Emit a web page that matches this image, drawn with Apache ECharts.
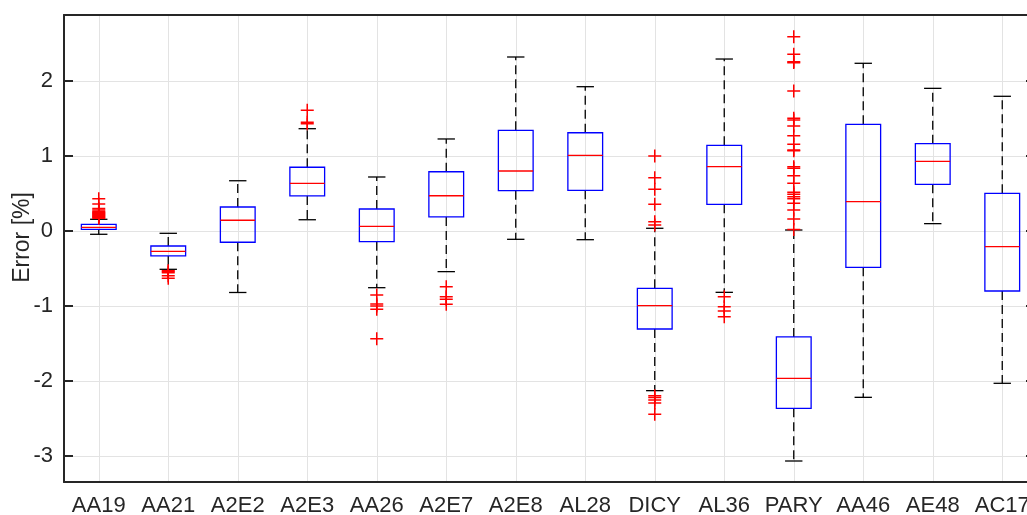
<!DOCTYPE html>
<html>
<head>
<meta charset="utf-8">
<script src="https://cdn.jsdelivr.net/npm/echarts@6/dist/echarts.min.js"></script>
<style>
  html, body { margin: 0; padding: 0; background: #fff; }
  #chart { width: 1027px; height: 515px; }
</style>
</head>
<body>
<div id="chart"></div>
<script>
const categories = ['AA19', 'AA21', 'A2E2', 'A2E3', 'AA26', 'A2E7', 'A2E8', 'AL28', 'DICY', 'AL36', 'PARY', 'AA46', 'AE48', 'AC17'];

// box stats per category (error in %)
const whiskerLow  = [-0.044, -0.511, -0.82,  0.15,  -0.756, -0.542, -0.111, -0.116, -2.129, -0.818, -3.067, -2.218, 0.098, -2.031];
const q1          = [ 0.022, -0.333, -0.15,  0.467, -0.142,  0.187,  0.538,  0.542, -1.307,  0.356, -2.364, -0.484, 0.622, -0.8];
const median      = [ 0.049, -0.271,  0.143, 0.636,  0.062,  0.47,   0.8,    1.009, -0.996,  0.858, -1.964,  0.391, 0.929, -0.209];
const q3          = [ 0.089, -0.2,    0.32,  0.85,   0.293,  0.79,   1.342,  1.31,  -0.764,  1.142, -1.413,  1.422, 1.164,  0.502];
const whiskerHigh = [ 0.156, -0.031,  0.67,  1.364,  0.72,   1.227,  2.32,   1.924,  0.036,  2.293,  0.013,  2.236, 1.902,  1.796];

// outliers, same order as categories
const outliers = [
  [0.43, 0.36, 0.30, 0.28, 0.26, 0.25, 0.24, 0.23, 0.22, 0.21, 0.20, 0.19, 0.18, 0.17],
  [-0.53, -0.54, -0.556, -0.596, -0.63],
  [],
  [1.609, 1.449, 1.43],
  [-0.853, -0.973, -1.0, -1.044, -1.436],
  [-0.742, -0.876, -0.91, -0.978],
  [],
  [],
  [1.0, 0.711, 0.556, 0.356, 0.124, 0.08, -2.196, -2.22, -2.253, -2.293, -2.444],
  [-0.876, -1.009, -1.067, -1.142],
  [2.591, 2.356, 2.258, 2.245, 1.867, 1.502, 1.48, 1.4, 1.271, 1.156, 1.08, 1.07, 0.858, 0.836,
   0.738, 0.636, 0.516, 0.49, 0.458, 0.43, 0.369, 0.28, 0.16, 0.02],
  [],
  [],
  []
];

const yTicks = [-3, -2, -1, 0, 1, 2];
const yMin = -3.347, yMax = 2.88;

const boxData = categories.map((c, i) => [i, whiskerLow[i], q1[i], median[i], q3[i], whiskerHigh[i]]);
const outlierData = [];
outliers.forEach((arr, i) => arr.forEach(v => outlierData.push([i, v])));

const textColor = '#262626';
const fontFamily = '"Liberation Sans", Arial, sans-serif';

function renderBox(params, api) {
  const idx = api.value(0);
  const band = api.size([1, 0])[0];
  const half = band * 0.25;
  const cap = band * 0.125;
  const lo = api.coord([idx, api.value(1)]);
  const b1 = api.coord([idx, api.value(2)]);
  const md = api.coord([idx, api.value(3)]);
  const b3 = api.coord([idx, api.value(4)]);
  const hi = api.coord([idx, api.value(5)]);
  const x = lo[0];
  const dash = { stroke: '#000', lineWidth: 1.3, lineDash: [9, 5], fill: null };
  const solid = { stroke: '#000', lineWidth: 1.3, fill: null };
  return {
    type: 'group',
    children: [
      { type: 'line', shape: { x1: x, y1: b3[1], x2: x, y2: hi[1] }, style: dash },
      { type: 'line', shape: { x1: x, y1: b1[1], x2: x, y2: lo[1] }, style: dash },
      { type: 'line', shape: { x1: x - cap, y1: hi[1], x2: x + cap, y2: hi[1] }, style: solid },
      { type: 'line', shape: { x1: x - cap, y1: lo[1], x2: x + cap, y2: lo[1] }, style: solid },
      { type: 'rect', shape: { x: x - half, y: b3[1], width: half * 2, height: b1[1] - b3[1] },
        style: { stroke: '#0000ff', lineWidth: 1.3, fill: null } },
      { type: 'line', shape: { x1: x - half, y1: md[1], x2: x + half, y2: md[1] },
        style: { stroke: '#ff0000', lineWidth: 1.3 } }
    ]
  };
}

const chart = echarts.init(document.getElementById('chart'));

const option = {
  animation: false,
  backgroundColor: '#fff',
  grid: { left: 64, top: 15, right: -10, bottom: 33, containLabel: false, outerBoundsMode: 'none' },
  xAxis: [
    {
      type: 'category',
      data: categories,
      axisLine: { onZero: false, lineStyle: { color: textColor, width: 2 } },
      axisTick: { inside: true, alignWithLabel: true, length: 9, lineStyle: { color: textColor, width: 2 } },
      axisLabel: { interval: 0, color: textColor, fontSize: 22, fontFamily: fontFamily, margin: 13 },
      splitLine: { show: true, alignWithLabel: true, lineStyle: { color: '#e3e3e3', width: 1 } }
    },
    {
      type: 'category',
      position: 'top',
      data: categories,
      axisLine: { onZero: false, lineStyle: { color: textColor, width: 2 } },
      axisTick: { inside: true, alignWithLabel: true, length: 9, lineStyle: { color: textColor, width: 2 } },
      axisLabel: { show: false },
      splitLine: { show: false }
    }
  ],
  yAxis: [
    {
      type: 'value',
      min: yMin,
      max: yMax,
      name: 'Error [%]',
      nameLocation: 'middle',
      nameGap: 30,
      nameMoveOverlap: false,
      nameTextStyle: { color: textColor, fontSize: 23, fontFamily: fontFamily, padding: [0, 0, 0, 22] },
      axisLine: { show: true, onZero: false, lineStyle: { color: textColor, width: 2 } },
      axisTick: { show: true, inside: true, length: 9, customValues: yTicks, lineStyle: { color: textColor, width: 2 } },
      axisLabel: { color: textColor, fontSize: 22, fontFamily: fontFamily, margin: 11, customValues: yTicks,
        formatter: v => String(v) },
      splitLine: { show: true, lineStyle: { color: '#e3e3e3', width: 1 } }
    },
    {
      type: 'value',
      position: 'right',
      min: yMin,
      max: yMax,
      axisLine: { show: true, onZero: false, lineStyle: { color: textColor, width: 2 } },
      axisTick: { show: true, inside: true, length: 11, customValues: yTicks, lineStyle: { color: textColor, width: 2 } },
      axisLabel: { show: false },
      splitLine: { show: false }
    }
  ],
  series: [
    {
      type: 'custom',
      renderItem: renderBox,
      data: boxData,
      encode: { x: 0, y: [1, 2, 3, 4, 5] },
      silent: true,
      z: 2
    },
    {
      type: 'scatter',
      data: outlierData,
      symbol: 'path://M5.3,0H6.7V12H5.3Z M0,5.3H12V6.7H0Z',
      symbolSize: 13,
      itemStyle: { color: '#ff0000', opacity: 1 },
      silent: true,
      z: 3
    }
  ]
};

chart.setOption(option);
</script>
</body>
</html>
